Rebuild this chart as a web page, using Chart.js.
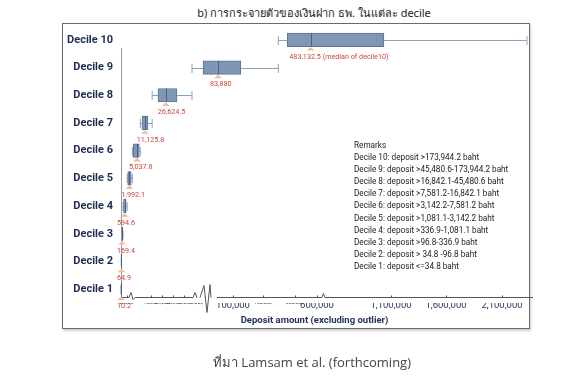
<!DOCTYPE html>
<html>
<head>
<meta charset="utf-8">
<script src="https://cdn.jsdelivr.net/npm/chart.js@4.4.0/dist/chart.umd.min.js"></script>
<style>
  html, body { margin: 0; padding: 0; background: #fff; }
  #wrap { position: relative; width: 584px; height: 387px; overflow: hidden; }
  #title { position: absolute; left: 0; width: 628px; top: 4px; text-align: center;
    font: 11px "Noto Sans", "DejaVu Sans", sans-serif; color: #222; }
  #frame { position: absolute; left: 62px; top: 23px; width: 466px; height: 304px;
    border: 1.5px solid #6a6a6a; box-shadow: 1px 2px 2px rgba(0,0,0,0.2); }
  #chart { position: absolute; left: 0; top: 0; }
  #xtitle { position: absolute; left: 0; width: 629px; top: 314px; text-align: center;
    font: bold 9.5px Roboto, sans-serif; color: #22325a; }
  #remarks { position: absolute; left: 354px; top: 139px; font: 8.2px Roboto, sans-serif;
    line-height: 12.1px; color: #222; white-space: nowrap; }
  #footer { position: absolute; left: 0; width: 624px; top: 352px; text-align: center;
    font: 13px "Open Sans", "Noto Sans", sans-serif; color: #444; }
</style>
</head>
<body>
<div id="wrap">
  <div id="title">b) การกระจายตัวของเงินฝาก ธพ. ในแต่ละ decile</div>
  <div id="frame"></div>
  <canvas id="chart" width="584" height="387"></canvas>
  <div id="xtitle">Deposit amount (excluding outlier)</div>
  <div id="remarks"></div>
  <div id="footer">ที่มา Lamsam et al. (forthcoming)</div>
</div>
<script>
// --- Data ---
const categories = ["Decile 10", "Decile 9", "Decile 8", "Decile 7", "Decile 6",
  "Decile 5", "Decile 4", "Decile 3", "Decile 2", "Decile 1"];
const whiskerLow = [173944.2, 45480.6, 16842.1, 7581.2, 3142.2, 1081.1, 336.9, 96.8, 34.8, 0];
const q1Values = [188000, 65400, 21000, 8900, 3500, 1300, 420, 130, 48, 5];
const medians = [483132.5, 83880, 26624.5, 11125.8, 5037.8, 1992.1, 594.6, 169.4, 64.9, 10.2];
const q3Values = [1052000, 113000, 34700, 13600, 6800, 2700, 850, 240, 80, 22];
const whiskerHigh = [2323000, 173944.2, 45480.6, 16842.1, 7581.2, 3142.2, 1081.1, 336.9, 96.8, 34.8];
const medianNotes = ["(median of decile10)", "", "", "", "", "", "", "", "", ""];

const xTickValues = [0, 1000, 16000, 24000, 32000, 40000, 48000, 100000, 150000, 200000,
  600000, 1100000, 1600000, 2100000];
const xMajorTicks = [100000, 600000, 1100000, 1600000, 2100000];

const remarks = [
  "Remarks",
  "Decile 10: deposit >173,944.2 baht",
  "Decile 9: deposit >45,480.6-173,944.2 baht",
  "Decile 8: deposit >16,842.1-45,480.6 baht",
  "Decile 7: deposit >7,581.2-16,842.1 baht",
  "Decile 6: deposit >3,142.2-7,581.2 baht",
  "Decile 5: deposit >1,081.1-3,142.2 baht",
  "Decile 4: deposit >336.9-1,081.1 baht",
  "Decile 3: deposit >96.8-336.9 baht",
  "Decile 2: deposit > 34.8 -96.8 baht",
  "Decile 1: deposit <=34.8 baht"
];

// broken axis: [value, axis unit]
const axisBreaks = [[0, 0], [1000, 6], [5000, 16], [16000, 30], [48000, 74.5], [70000, 84],
  [100000, 112], [150000, 142], [200000, 174], [600000, 196], [1100000, 270],
  [1600000, 325], [2100000, 381], [2350000, 409]];
const axisLength = 409;

document.getElementById("remarks").innerHTML = remarks.map((r) => `<div>${r}</div>`).join("");

// --- Broken x scale ---
class BrokenScale extends Chart.LinearScale {
  toUnit(v) {
    for (let i = 1; i < axisBreaks.length; i++) {
      const [v0, u0] = axisBreaks[i - 1];
      const [v1, u1] = axisBreaks[i];
      if (v <= v1 || i === axisBreaks.length - 1) {
        return u0 + ((v - v0) / (v1 - v0)) * (u1 - u0);
      }
    }
    return 0;
  }
  fromUnit(u) {
    for (let i = 1; i < axisBreaks.length; i++) {
      const [v0, u0] = axisBreaks[i - 1];
      const [v1, u1] = axisBreaks[i];
      if (u <= u1 || i === axisBreaks.length - 1) {
        return v0 + ((u - u0) / (u1 - u0)) * (v1 - v0);
      }
    }
    return 0;
  }
  buildTicks() {
    return xTickValues.map((v) => ({ value: v }));
  }
  getPixelForValue(v) {
    if (v === null || v === undefined || isNaN(v)) return NaN;
    return this.getPixelForDecimal(this.toUnit(v) / axisLength);
  }
  getValueForPixel(p) {
    return this.fromUnit(this.getDecimalForPixel(p) * axisLength);
  }
}
BrokenScale.id = "broken";
BrokenScale.defaults = {};
Chart.register(BrokenScale);

// --- Whiskers, medians, labels, axis lines ---
const boxExtras = {
  id: "boxExtras",
  beforeDatasetsDraw(chart) {
    const { ctx, scales: { x, y }, chartArea } = chart;
    const axisY = chartArea.bottom - 5.5;
    ctx.save();
    ctx.lineWidth = 1;

    // y axis line
    ctx.strokeStyle = "#9a9a9a";
    ctx.beginPath();
    ctx.moveTo(Math.round(x.left) + 0.5, chartArea.top + 22);
    ctx.lineTo(Math.round(x.left) + 0.5, axisY);
    ctx.stroke();

    // x axis line with breaks
    const b1 = x.getPixelForValue(2600);
    const b2 = x.getPixelForValue(65400);
    const b3 = x.getPixelForValue(640000);
    ctx.strokeStyle = "#555";
    ctx.beginPath();
    ctx.moveTo(x.left, axisY);
    ctx.lineTo(b1 - 2, axisY);
    ctx.lineTo(b1, axisY - 5);
    ctx.lineTo(b1 + 2, axisY + 2);
    ctx.lineTo(b1 + 4, axisY);
    ctx.lineTo(b2 - 10, axisY);
    ctx.lineTo(b2 - 8, axisY - 5);
    ctx.lineTo(b2 - 6, axisY);
    ctx.moveTo(b2 - 3, axisY);
    ctx.lineTo(b2 + 1, axisY - 12);
    ctx.lineTo(b2 + 4, axisY + 15);
    ctx.lineTo(b2 + 7, axisY - 13);
    ctx.lineTo(b2 + 8, axisY);
    ctx.moveTo(b2 + 14, axisY);
    ctx.lineTo(b3 - 1, axisY);
    ctx.lineTo(b3 + 0.5, axisY - 4);
    ctx.lineTo(b3 + 2, axisY);
    ctx.lineTo(x.right + 3, axisY);
    ctx.stroke();

    // tick marks
    xTickValues.forEach((v) => {
      const px = Math.round(x.getPixelForValue(v)) + 0.5;
      ctx.beginPath();
      ctx.moveTo(px, axisY);
      ctx.lineTo(px, axisY - 2);
      ctx.stroke();
    });

    // whiskers
    ctx.strokeStyle = "#8da2bb";
    categories.forEach((c, i) => {
      const yc = Math.round(y.getPixelForValue(i)) + 0.5;
      const lo = x.getPixelForValue(whiskerLow[i]);
      const hi = x.getPixelForValue(whiskerHigh[i]);
      ctx.beginPath();
      ctx.moveTo(lo, yc);
      ctx.lineTo(hi, yc);
      ctx.moveTo(lo, yc - 4.5);
      ctx.lineTo(lo, yc + 4.5);
      ctx.moveTo(hi, yc - 4.5);
      ctx.lineTo(hi, yc + 4.5);
      ctx.stroke();
    });
    ctx.restore();
  },
  afterDatasetsDraw(chart) {
    const { ctx, scales: { x, y } } = chart;
    const meta = chart.getDatasetMeta(0);
    ctx.save();
    categories.forEach((c, i) => {
      const bar = meta.data[i];
      const yc = y.getPixelForValue(i);
      const top = yc - bar.height / 2;
      const bottom = yc + bar.height / 2;
      const mx = x.getPixelForValue(medians[i]);

      // median line
      ctx.strokeStyle = "#4b6385";
      ctx.lineWidth = 1;
      ctx.beginPath();
      ctx.moveTo(Math.round(mx) + 0.5, top);
      ctx.lineTo(Math.round(mx) + 0.5, bottom);
      ctx.stroke();

      // marker
      ctx.fillStyle = "#f5bc94";
      ctx.beginPath();
      ctx.moveTo(mx - 4, bottom + 4);
      ctx.lineTo(mx + 4, bottom + 4);
      ctx.lineTo(mx, bottom + 0.5);
      ctx.closePath();
      ctx.fill();

      // value label
      const text = medians[i].toLocaleString("en-US") + (medianNotes[i] ? " " + medianNotes[i] : "");
      const left = medianNotes[i] ? x.getPixelForValue(q1Values[i]) + 2 : Math.max(mx - 8, x.left - 4);
      ctx.fillStyle = "#c8463d";
      ctx.font = "7.2px Roboto";
      ctx.textAlign = "left";
      ctx.textBaseline = "middle";
      ctx.fillText(text, left, yc + 17);
    });
    ctx.restore();
  }
};

const chart = new Chart(document.getElementById("chart"), {
  type: "bar",
  data: {
    labels: categories,
    datasets: [{
      data: categories.map((c, i) => [q1Values[i], q3Values[i]]),
      backgroundColor: "#7f97b4",
      borderColor: "#5c7596",
      borderWidth: 1,
      borderSkipped: false,
      barThickness: 13.5
    }]
  },
  options: {
    indexAxis: "y",
    responsive: false,
    animation: false,
    devicePixelRatio: 1,
    layout: { padding: { left: 0, top: 26, right: 54, bottom: 54 } },
    plugins: { legend: { display: false }, tooltip: { enabled: false } },
    scales: {
      x: {
        type: "broken",
        min: 0,
        max: 2350000,
        grid: { display: false, drawTicks: false },
        border: { display: false },
        afterFit: (s) => { s.height = 30; },
        ticks: {
          autoSkip: false,
          maxRotation: 0,
          padding: -3,
          color: "#2a3656",
          font: (ctx) => ({
            family: "Roboto",
            size: ctx.tick && xMajorTicks.includes(ctx.tick.value) ? 9.5 : 5
          }),
          callback: (v) => Number(v).toLocaleString("en-US")
        }
      },
      y: {
        grid: { display: false, drawTicks: false },
        border: { display: false },
        afterFit: (s) => { s.width = 121; },
        ticks: {
          padding: 8,
          color: "#1f2c4f",
          font: { family: "Roboto", size: 11, weight: "bold" }
        }
      }
    }
  },
  plugins: [boxExtras]
});
</script>
</body>
</html>
